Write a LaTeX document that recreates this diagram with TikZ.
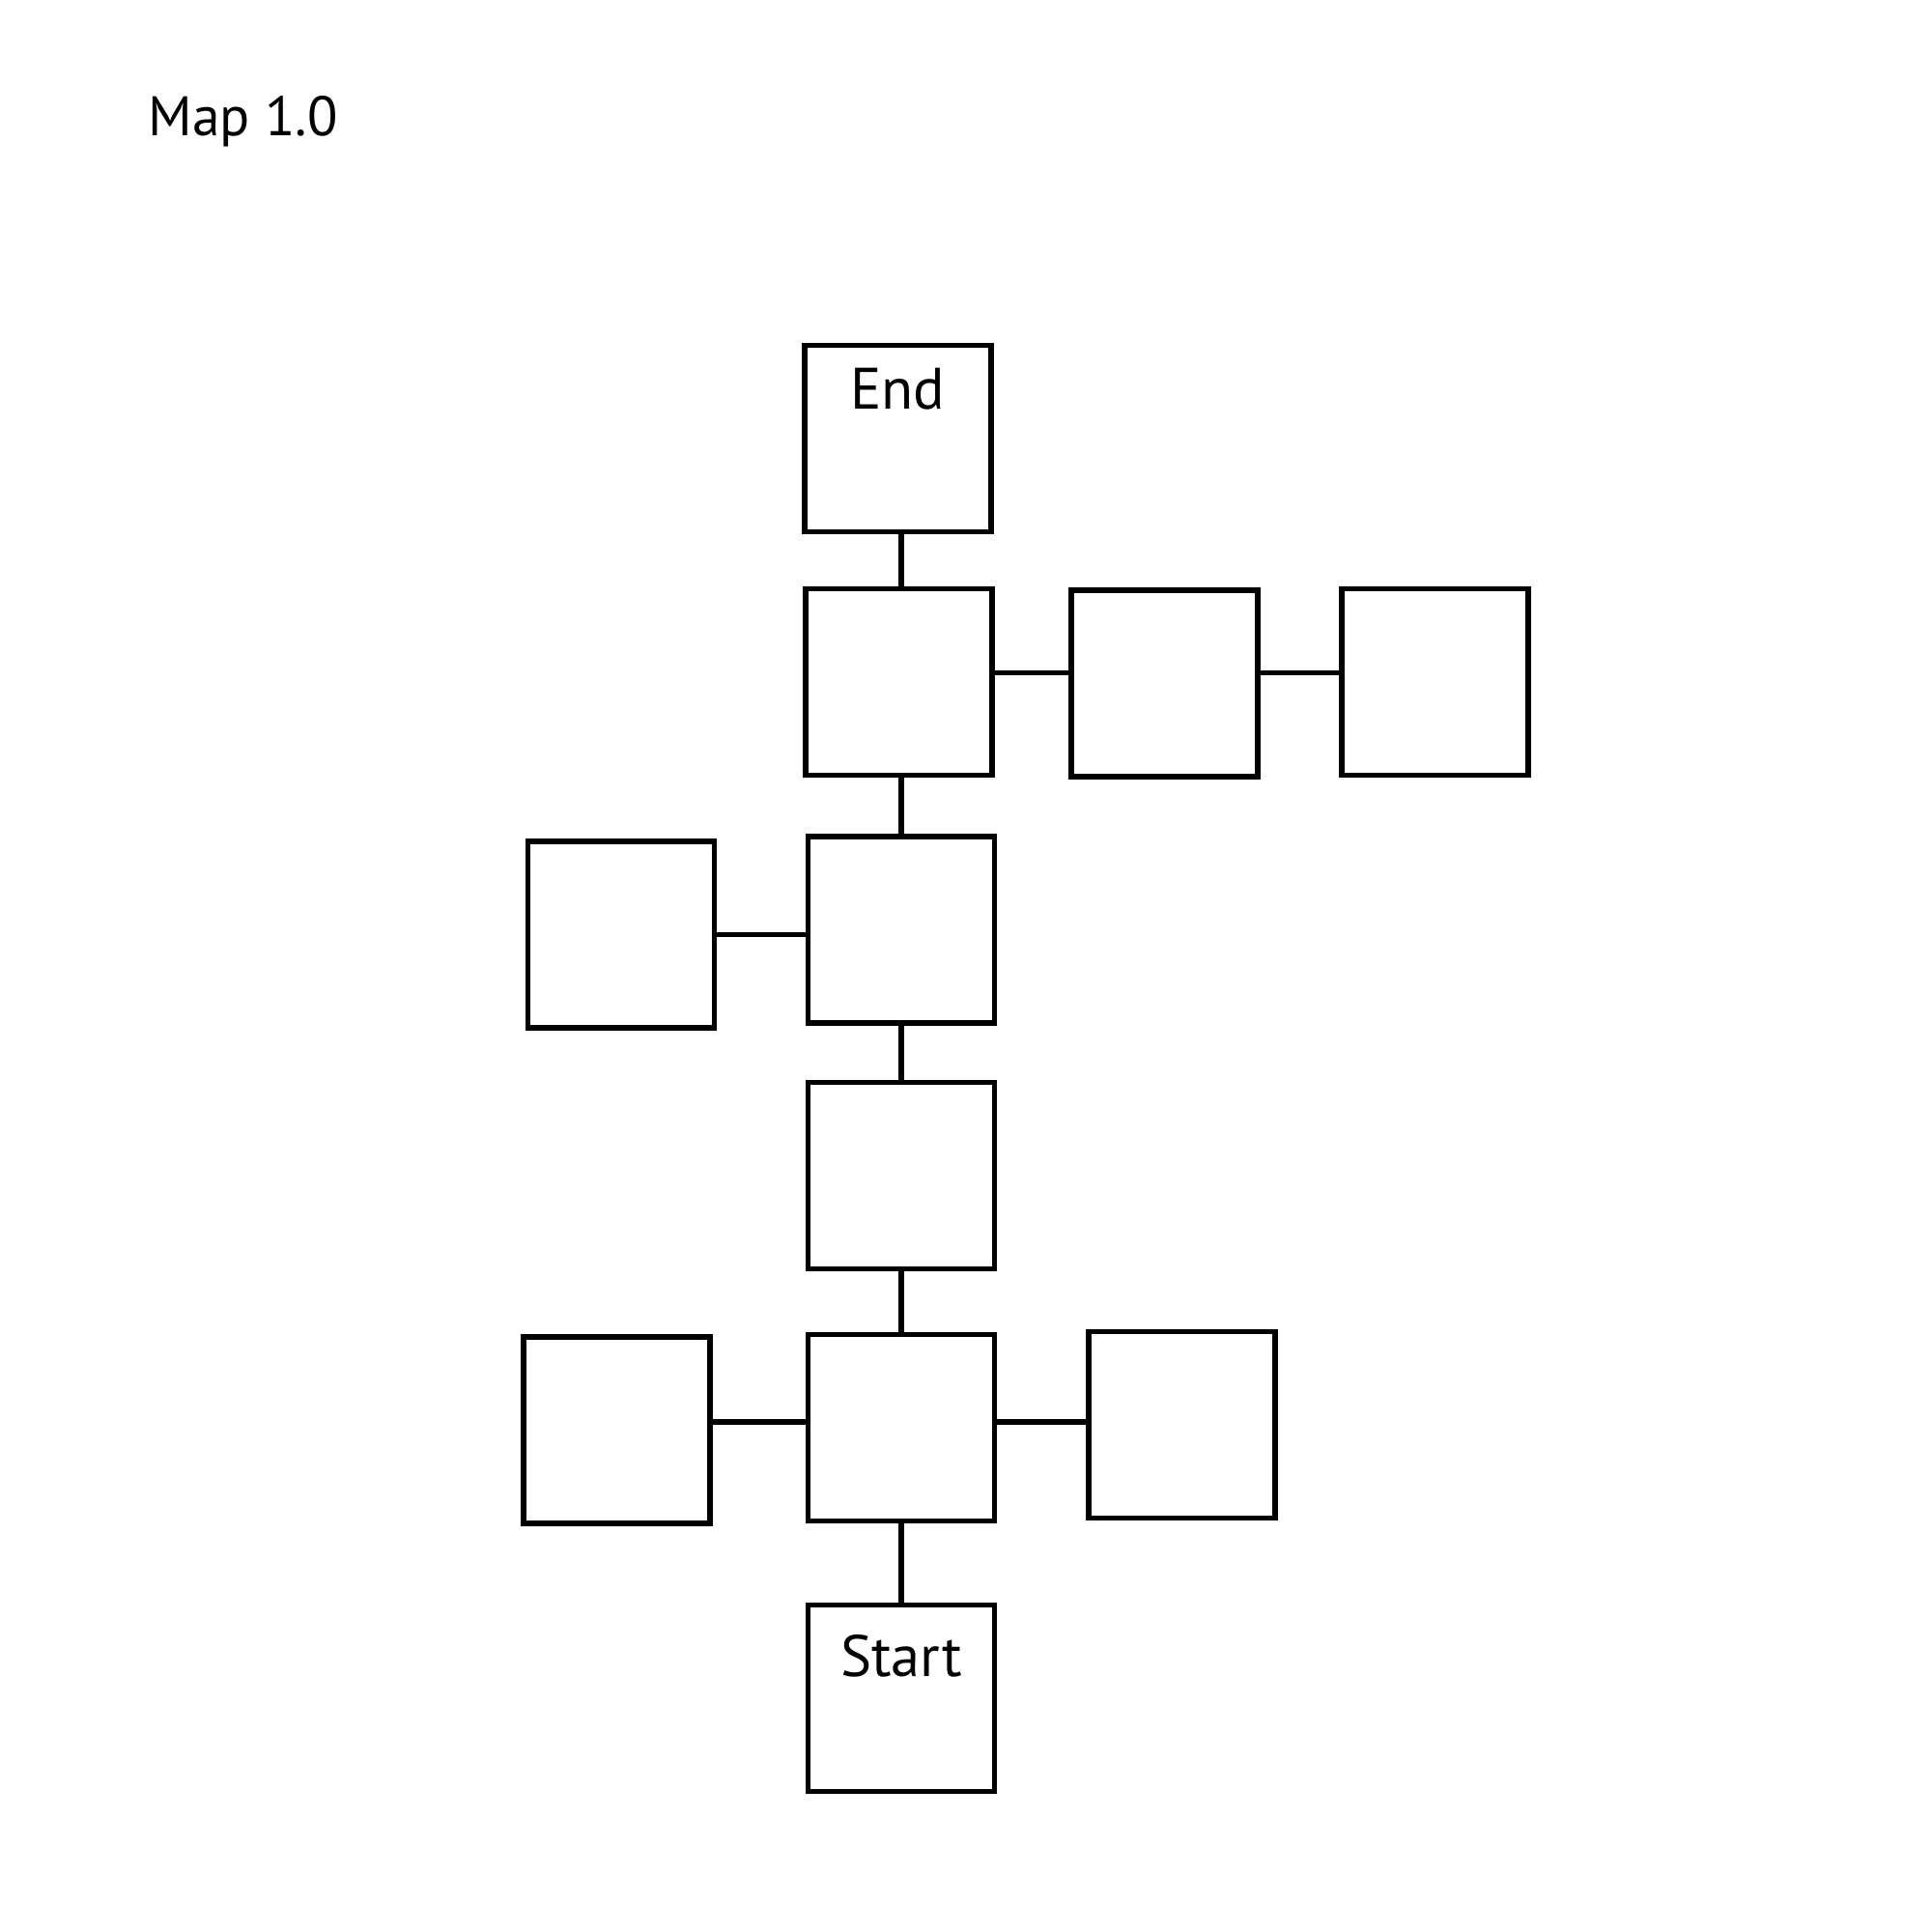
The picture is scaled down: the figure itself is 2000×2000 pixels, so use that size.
\documentclass[tikz,border=0pt]{standalone}
\usepackage{fontspec}
\setmainfont{PT Sans}
\usetikzlibrary{positioning}
\tikzset{
	room/.style={rectangle,draw=black,line width=0.055cm,minimum size=1.93cm,inner sep=0pt},
	link/.style={line width=0.055cm},
	tag/.style={inner sep=0pt,font=\fontsize{17.2}{20}\selectfont}
}
\begin{document}
\begin{tikzpicture}[x=0.01cm,y=-0.01cm]
		\useasboundingbox (0,0) rectangle (2000,2000);
		\node[tag,anchor=west,font=\fontsize{16.4}{19}\selectfont] (title) at (153,126) {Map 1.0};
		% middle column
		\node[room] (end) at (929.5,454) {};
		\node[room] (r2a) at (930.5,706) {};
		\node[room] (r3c) at (933,962.5) {};
		\node[room] (r4) at (933,1217) {};
		\node[room] (r5c) at (933,1478) {};
		\node[room] (start) at (933,1758) {};
		% side rooms
		\node[room] (r2b) at (1205.5,707.5) {};
		\node[room] (r2c) at (1485.5,706) {};
		\node[room] (r3l) at (643,967.5) {};
		\node[room] (r5l) at (638.5,1480.5) {};
		\node[room] (r5r) at (1223.5,1475) {};
		\node[tag] (endtag) at ([yshift=-0.48cm]end.north) {End};
		\node[tag] (starttag) at ([yshift=-0.56cm]start.north) {Start};
		\draw[link] (end.south -| r4) -- (r2a.north -| r4);
		\draw[link] (r2a.south -| r4) -- (r3c);
		\draw[link] (r3c) -- (r4);
		\draw[link] (r4) -- (r5c);
		\draw[link] (r5c) -- (start);
		\draw[link] ([yshift=0.095cm]r2a.east) -- ([yshift=0.095cm]r2a.east -| r2b.west);
		\draw[link] ([yshift=0.095cm]r2a.east -| r2b.east) -- ([yshift=0.095cm]r2a.east -| r2c.west);
		\draw[link] (r3l.east) -- (r3l.east -| r3c.west);
		\draw[link] ([yshift=0.06cm]r5c.west) -- ([yshift=0.06cm]r5c.west -| r5l.east);
		\draw[link] ([yshift=0.06cm]r5c.east) -- ([yshift=0.06cm]r5c.east -| r5r.west);
	\end{tikzpicture}
\end{document}
